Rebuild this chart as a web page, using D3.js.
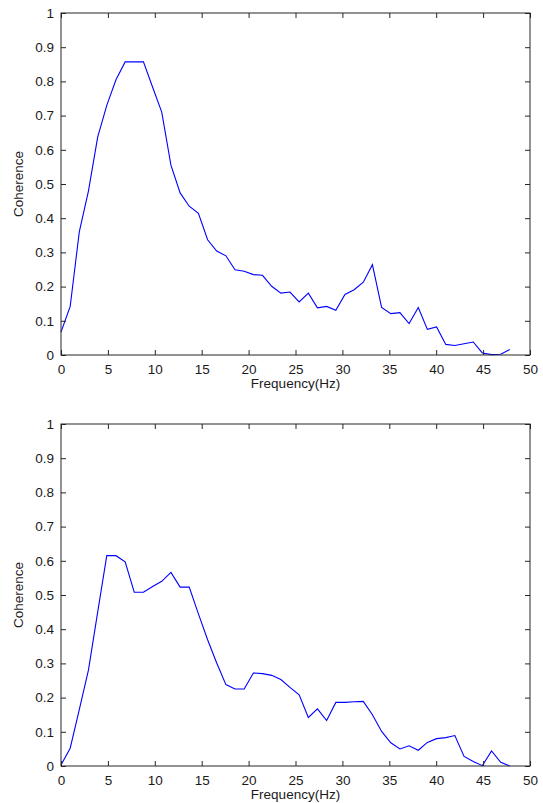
<!DOCTYPE html>
<html><head><meta charset="utf-8">
<script src="https://cdn.jsdelivr.net/npm/d3@7"></script>
<style>body{margin:0;background:#fff}svg{display:block}text{font-family:"Liberation Sans",Arial,sans-serif;}</style>
</head><body><svg id="c" width="543" height="803"></svg>
<script>
const freqs = [0,0.98,1.95,2.93,3.91,4.88,5.86,6.84,7.81,8.79,9.77,10.74,11.72,12.70,13.67,14.65,15.63,16.60,17.58,18.55,19.53,20.51,21.48,22.46,23.44,24.41,25.39,26.37,27.34,28.32,29.30,30.27,31.25,32.23,33.20,34.18,35.16,36.13,37.11,38.09,39.06,40.04,41.02,41.99,42.97,43.95,44.92,45.90,46.88,47.85];
const coherenceTop = [0.067,0.142,0.36,0.48,0.637,0.73,0.805,0.857,0.857,0.857,0.783,0.71,0.555,0.474,0.435,0.414,0.337,0.304,0.29,0.249,0.245,0.235,0.233,0.201,0.181,0.184,0.155,0.181,0.138,0.142,0.131,0.177,0.191,0.213,0.264,0.139,0.121,0.124,0.092,0.139,0.075,0.082,0.031,0.028,0.033,0.038,0.006,0.001,0.002,0.016];
const coherenceBottom = [0.003,0.052,0.165,0.281,0.45,0.615,0.615,0.597,0.508,0.508,0.525,0.54,0.566,0.523,0.523,0.445,0.369,0.301,0.238,0.225,0.225,0.272,0.27,0.265,0.253,0.23,0.208,0.142,0.167,0.133,0.186,0.186,0.188,0.189,0.15,0.101,0.068,0.05,0.059,0.046,0.069,0.08,0.083,0.089,0.028,0.013,0.001,0.044,0.011,0.0];
const xTicks = [0,5,10,15,20,25,30,35,40,45,50];
const yTicks = [0,0.1,0.2,0.3,0.4,0.5,0.6,0.7,0.8,0.9,1];
const xLabel = "Frequency(Hz)";
const yLabel = "Coherence";

const svg = d3.select("#c");
const left = 61, right = 530;
const panels = [{top:13, bottom:355, data:coherenceTop},{top:424, bottom:766, data:coherenceBottom}];
const axisColor = "#262626", fs = 13.5, tickLen = 5;

panels.forEach(p => {
  const x = d3.scaleLinear().domain([0,50]).range([left,right]);
  const y = d3.scaleLinear().domain([0,1]).range([p.bottom,p.top]);
  const g = svg.append("g");
  // data line (drawn first, axes on top)
  g.append("path").datum(freqs.map((f,i)=>[f,p.data[i]]))
    .attr("fill","none").attr("stroke","#0000ff").attr("stroke-width",1.1)
    .attr("d", d3.line().x(d=>x(d[0])).y(d=>y(d[1])));
  const fmt = d => String(d);
  const ax = (axis, tr) => {
    const a = g.append("g").attr("transform",tr).call(axis);
    a.select(".domain").remove();
    a.selectAll("line").attr("stroke",axisColor);
    a.selectAll("text").attr("fill","#1a1a1a").style("font-size",fs+"px").style("font-family","'Liberation Sans',Arial,sans-serif");
    return a;
  };
  // bottom axis with labels, inward ticks
  ax(d3.axisBottom(x).tickValues(xTicks).tickFormat(fmt).tickSizeInner(-tickLen).tickSizeOuter(0).tickPadding(9), `translate(0,${p.bottom})`);
  // top axis inward ticks no labels
  ax(d3.axisTop(x).tickValues(xTicks).tickFormat("").tickSizeInner(-tickLen).tickSizeOuter(0), `translate(0,${p.top})`);
  // left axis with labels
  ax(d3.axisLeft(y).tickValues(yTicks).tickFormat(fmt).tickSizeInner(-tickLen).tickSizeOuter(0).tickPadding(7), `translate(${left},0)`);
  // right axis inward ticks
  ax(d3.axisRight(y).tickValues(yTicks).tickFormat("").tickSizeInner(-tickLen).tickSizeOuter(0), `translate(${right},0)`);
  // box
  g.append("rect").attr("x",left).attr("y",p.top).attr("width",right-left).attr("height",p.bottom-p.top)
    .attr("fill","none").attr("stroke",axisColor).attr("stroke-width",1);
  g.append("text").attr("x",(left+right)/2).attr("y",p.bottom+33).attr("text-anchor","middle")
    .attr("fill","#1a1a1a").style("font-size",fs+"px").text(xLabel);
  g.append("text").attr("transform",`translate(23,${(p.top+p.bottom)/2}) rotate(-90)`).attr("text-anchor","middle")
    .attr("fill","#1a1a1a").style("font-size",fs+"px").text(yLabel);
});
</script></body></html>
